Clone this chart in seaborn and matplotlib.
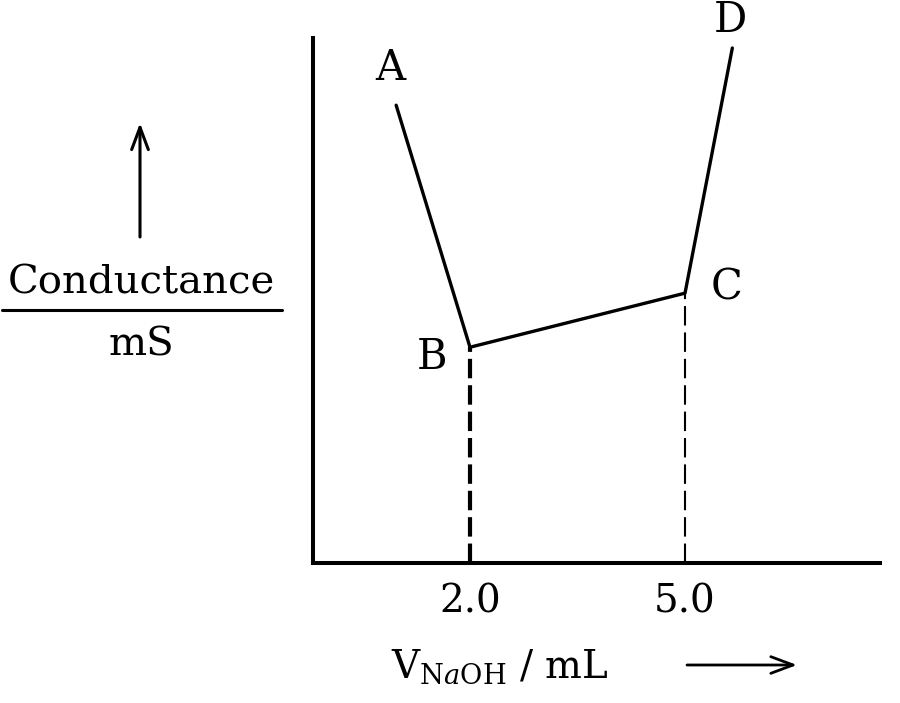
import matplotlib
matplotlib.use("Agg")
import matplotlib.pyplot as plt
import seaborn as sns
import pandas as pd
from matplotlib.lines import Line2D

# puntos de la curva de valoracion (A, B, C, D)
puntos = ["A", "B", "C", "D"]
v_naoh = [0.97, 2.0, 5.0, 5.66]          # mL
conductancia = [8.72, 4.11, 5.14, 9.81]  # mS (unidades arbitrarias)
ticks_x = [2.0, 5.0]
ticks_lbl = ["2.0", "5.0"]

sns.set_theme(style="white")
plt.rcParams['font.family'] = ['DejaVu Serif']
plt.rcParams['mathtext.fontset'] = 'dejavuserif'
plt.rcParams['lines.scale_dashes'] = False
plt.rcParams['text.color'] = 'black'
plt.rcParams['xtick.color'] = 'black'
plt.rcParams['xtick.labelcolor'] = 'black'

W, H = 900, 703
fig = plt.figure(figsize=(9, 7.03), dpi=100)
ax = fig.add_axes([313 / W, 1 - 563 / H, (880 - 313) / W, (563 - 38) / H])

df = pd.DataFrame({"v": v_naoh, "k": conductancia, "p": puntos})
sns.lineplot(data=df, x="v", y="k", sort=False, color="black", lw=2.4, ax=ax)

# lineas discontinuas en los puntos de equivalencia B y C
ax.plot([v_naoh[1], v_naoh[1]], [0, conductancia[1]], color="black", lw=3.0,
        linestyle=(0, (14, 5)))
ax.plot([v_naoh[2], v_naoh[2]], [0, conductancia[2]], color="black", lw=1.5,
        linestyle=(0, (14, 5)))

offsets = {"A": (-4, 27), "B": (-27, -7), "C": (30, 4), "D": (-1.5, 20)}
for p, x, y in zip(puntos, v_naoh, conductancia):
    ax.annotate(p, (x, y), xytext=offsets[p], textcoords="offset points",
                ha="center", va="center", fontsize=30, color="black")

ax.set_xlim(-0.19, 7.72)
ax.set_ylim(0, 10)
ax.set_xticks(ticks_x, ticks_lbl, fontsize=28)
ax.set_yticks([])
ax.tick_params(axis="x", length=0, pad=15)
ax.set_xlabel("")
ax.set_ylabel("")
sns.despine(ax=ax)
for s in ["left", "bottom"]:
    ax.spines[s].set_linewidth(2.9)
    ax.spines[s].set_color("black")

# etiqueta eje y
fig.text(141 / W, 1 - 283 / H, "Conductance", ha="center", va="center",
         fontsize=29, color="black")
fig.add_artist(Line2D([2 / W, 282 / W], [1 - 310 / H, 1 - 310 / H], color="black", lw=2.2))
fig.text(141 / W, 1 - 345 / H, "mS", ha="center", va="center", fontsize=29, color="black")
fig.add_artist(plt.Annotation("", xy=(140, H - 123), xytext=(140, H - 237),
                              xycoords="figure pixels", textcoords="figure pixels",
                              arrowprops=dict(arrowstyle="->,head_length=0.8,head_width=0.3",
                                              lw=2.2, color="black", mutation_scale=20,
                                              shrinkA=0, shrinkB=0)))

# etiqueta eje x
fig.text(500 / W, 1 - 678 / H, r"$\mathrm{V}_{\mathrm{N}a\mathrm{OH}}$ / mL",
         ha="center", va="baseline", fontsize=28, color="black")
fig.add_artist(plt.Annotation("", xy=(797, H - 665), xytext=(687, H - 665),
                              xycoords="figure pixels", textcoords="figure pixels",
                              arrowprops=dict(arrowstyle="->,head_length=0.8,head_width=0.3",
                                              lw=2.0, color="black", mutation_scale=20,
                                              shrinkA=0, shrinkB=0)))

fig.savefig("out.png", dpi=100)
